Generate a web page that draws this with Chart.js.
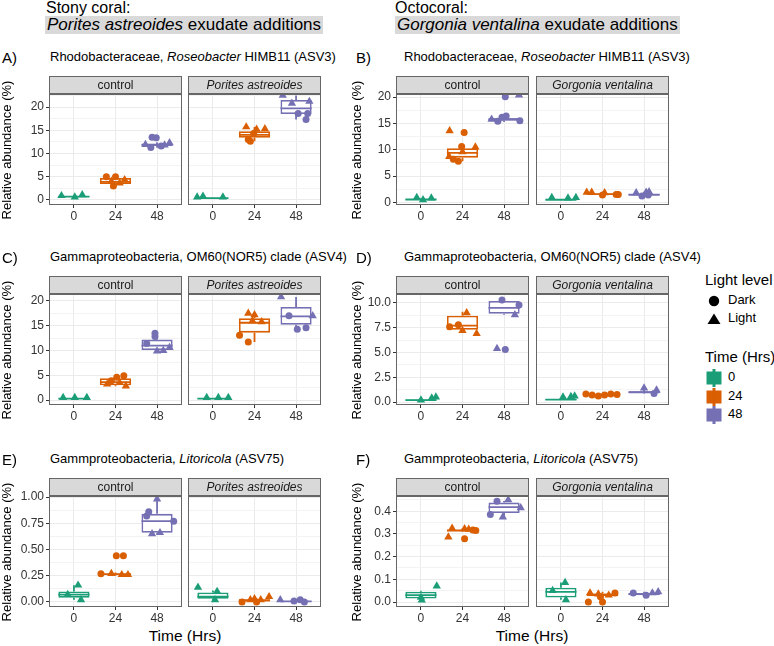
<!DOCTYPE html>
<html>
<head>
<meta charset="utf-8">
<script src="https://cdn.jsdelivr.net/npm/chart.js@4.4.1/dist/chart.umd.min.js"></script>
<style>
  body { margin: 0; background: #fff; font-family: "Liberation Sans", Arial, sans-serif; }
  #wrap { position: relative; width: 774px; height: 646px; overflow: hidden; }
  #wrap canvas { position: absolute; }
  .txt { position: absolute; white-space: nowrap; color: #000; line-height: 1.15; z-index: 2; }
  .hl { background: #D9D9D9; padding: 0 2px; }
  .ytitle { position: absolute; width: 200px; height: 16px; line-height: 16px; text-align: center;
            font-size: 13px; transform: rotate(-90deg); white-space: nowrap; z-index: 2; }
  svg { position: absolute; }
</style>
</head>
<body>
<div id="wrap"></div>
<script>
// categories and groups
const timeLabels = ['0', '24', '48'];
const timeColors = ['#1B9E77', '#D95F02', '#7570B3'];
const lightLevels = ['Dark', 'Light'];

// box stats per time point: [lower whisker, q1, median, q3, upper whisker]
// points: [time index, jitter, relative abundance, light level (0 = Dark, 1 = Light)]

// A) Roseobacter HIMB11 (ASV3), Porites astreoides
const yTicksA = [0, 5, 10, 15, 20];
const yLabelsA = ['0', '5', '10', '15', '20'];
const yLimA = [-1.1, 22.8];
const boxA_ctrl = [[0.5, 0.6, 0.7, 0.8, 1.0], [3.0, 3.4, 3.9, 4.7, 5.0], [11.2, 11.6, 11.9, 12.1, 12.4]];
const ptsA_ctrl = [
  [0, -0.30, 0.9, 1], [0, 0.20, 1.1, 1], [0, 0.02, 0.6, 1],
  [1, -0.22, 5.0, 0], [1, 0.00, 5.0, 0], [1, -0.05, 3.0, 0], [1, 0.22, 4.3, 1], [1, 0.10, 3.6, 1], [1, -0.10, 4.0, 1],
  [2, -0.12, 13.5, 0], [2, -0.02, 13.4, 0], [2, -0.15, 11.3, 0], [2, 0.10, 11.6, 0], [2, 0.30, 12.3, 1], [2, 0.18, 11.8, 1], [2, -0.28, 11.9, 1]
];
const boxA_por = [[0.3, 0.35, 0.4, 0.45, 0.5], [12.6, 13.4, 14.0, 14.8, 15.7], [17.3, 18.5, 19.7, 21.5, 22.5]];
const ptsA_por = [
  [0, -0.38, 0.6, 1], [0, -0.24, 0.8, 1], [0, 0.24, 0.6, 1],
  [1, -0.20, 15.7, 1], [1, 0.05, 15.2, 1], [1, 0.25, 15.3, 1], [1, -0.15, 13.0, 0], [1, -0.10, 12.6, 0], [1, -0.02, 14.3, 0],
  [2, -0.32, 22.5, 1], [2, 0.32, 21.2, 1], [2, 0.05, 18.6, 0], [2, 0.28, 18.6, 0], [2, 0.24, 17.3, 0], [2, -0.10, 20.8, 1]
];

// B) Roseobacter HIMB11 (ASV3), Gorgonia ventalina
const yTicksB = [0, 5, 10, 15, 20];
const yLabelsB = ['0', '5', '10', '15', '20'];
const yLimB = [-0.5, 20.6];
const boxB_ctrl = [[0.4, 0.5, 0.55, 0.6, 0.8], [7.8, 8.5, 9.4, 10.3, 10.6], [15.3, 15.5, 15.8, 16.0, 16.4]];
const ptsB_ctrl = [
  [0, -0.10, 0.9, 1], [0, 0.25, 0.8, 1], [0, 0.05, 0.5, 1],
  [1, -0.31, 13.6, 1], [1, 0.04, 13.3, 0], [1, -0.02, 10.6, 0], [1, 0.31, 10.5, 1], [1, 0.00, 9.6, 1], [1, -0.22, 8.2, 0], [1, -0.10, 7.8, 0], [1, -0.32, 8.7, 1],
  [2, 0.03, 20.1, 0], [2, 0.36, 20.4, 1], [2, -0.05, 16.2, 0], [2, 0.05, 16.4, 0], [2, 0.38, 15.5, 0], [2, -0.30, 15.8, 1], [2, -0.15, 15.4, 0]
];
const boxB_gor = [[0.4, 0.45, 0.5, 0.55, 0.6], [1.3, 1.45, 1.55, 1.7, 1.9], [1.2, 1.35, 1.45, 1.6, 2.0]];
const ptsB_gor = [
  [0, -0.22, 0.9, 1], [0, 0.17, 0.8, 1], [0, 0.36, 0.9, 1],
  [1, -0.38, 1.9, 1], [1, -0.26, 1.9, 1], [1, 0.05, 1.8, 1], [1, 0.00, 1.4, 0], [1, 0.33, 1.5, 0], [1, 0.38, 1.5, 0],
  [2, -0.19, 1.8, 1], [2, 0.05, 1.9, 1], [2, 0.12, 2.0, 1], [2, -0.05, 1.2, 0], [2, 0.10, 1.4, 0]
];

// C) OM60(NOR5) clade (ASV4), Porites astreoides
const yTicksC = [0, 5, 10, 15, 20];
const yLabelsC = ['0', '5', '10', '15', '20'];
const yLimC = [-1.0, 21.4];
const boxC_ctrl = [[0.2, 0.25, 0.3, 0.35, 0.4], [2.8, 3.0, 3.6, 4.4, 4.9], [9.9, 10.1, 11.0, 12.2, 13.5]];
const ptsC_ctrl = [
  [0, -0.26, 0.5, 1], [0, 0.02, 0.5, 1], [0, 0.31, 0.5, 1],
  [1, 0.03, 4.6, 0], [1, 0.20, 4.9, 0], [1, -0.10, 3.9, 0], [1, 0.10, 3.5, 1], [1, 0.25, 2.8, 1], [1, -0.20, 3.2, 1],
  [2, -0.05, 13.5, 0], [2, -0.05, 12.8, 0], [2, -0.25, 11.4, 0], [2, 0.00, 9.9, 1], [2, 0.30, 10.6, 1], [2, 0.15, 10.0, 1]
];
const boxC_por = [[0.2, 0.25, 0.3, 0.35, 0.4], [11.7, 13.6, 15.6, 16.5, 17.5], [14.3, 15.2, 16.9, 18.8, 20.8]];
const ptsC_por = [
  [0, -0.15, 0.5, 1], [0, 0.13, 0.5, 1], [0, 0.37, 0.5, 1],
  [1, -0.15, 17.5, 1], [1, 0.00, 17.2, 1], [1, 0.17, 15.8, 1], [1, -0.36, 13.1, 0], [1, -0.15, 11.7, 0], [1, -0.05, 16.0, 1],
  [2, -0.36, 20.8, 1], [2, -0.17, 17.0, 0], [2, 0.40, 17.0, 1], [2, 0.03, 14.3, 0], [2, 0.24, 14.6, 0]
];

// D) OM60(NOR5) clade (ASV4), Gorgonia ventalina
const yTicksD = [0, 2.5, 5, 7.5, 10];
const yLabelsD = ['0.0', '2.5', '5.0', '7.5', '10.0'];
const yLimD = [-0.3, 10.9];
const boxD_ctrl = [[0.1, 0.15, 0.2, 0.25, 0.3], [7.0, 7.3, 7.7, 8.7, 9.1], [8.8, 8.9, 9.5, 10.2, 10.4]];
const ptsD_ctrl = [
  [0, 0.26, 0.4, 1], [0, 0.36, 0.5, 1], [0, 0.00, 0.2, 1],
  [1, -0.31, 7.6, 0], [1, -0.10, 7.8, 0], [1, 0.10, 9.0, 1], [1, 0.34, 6.9, 1], [1, 0.00, 7.2, 1],
  [2, -0.05, 10.3, 0], [2, 0.36, 9.8, 0], [2, 0.26, 8.8, 1], [2, -0.17, 5.4, 1], [2, 0.03, 5.3, 0]
];
const boxD_gor = [[0.15, 0.2, 0.25, 0.3, 0.35], [0.55, 0.62, 0.7, 0.78, 0.9], [0.8, 0.85, 1.0, 1.1, 1.4]];
const ptsD_gor = [
  [0, 0.05, 0.5, 1], [0, 0.24, 0.55, 1], [0, 0.33, 0.6, 1],
  [1, -0.40, 0.8, 0], [1, -0.25, 0.7, 0], [1, -0.10, 0.6, 0], [1, 0.05, 0.7, 0], [1, 0.20, 0.8, 0], [1, 0.35, 0.75, 0],
  [2, 0.00, 1.4, 1], [2, 0.24, 0.85, 0], [2, 0.30, 1.2, 1]
];

// E) Litoricola (ASV75), Porites astreoides
const yTicksE = [0, 0.25, 0.5, 0.75, 1];
const yLabelsE = ['0.00', '0.25', '0.50', '0.75', '1.00'];
const yLimE = [-0.048, 1.01];
const boxE_ctrl = [[0.02, 0.04, 0.07, 0.10, 0.16], [0.25, 0.26, 0.265, 0.27, 0.28], [0.65, 0.66, 0.77, 0.84, 0.98]];
const ptsE_ctrl = [
  [0, 0.10, 0.16, 1], [0, 0.17, 0.02, 1], [0, -0.15, 0.07, 1],
  [1, 0.02, 0.44, 0], [1, 0.19, 0.44, 0], [1, -0.35, 0.27, 0], [1, -0.10, 0.27, 1], [1, 0.15, 0.26, 1], [1, 0.30, 0.26, 1],
  [2, -0.20, 0.86, 0], [2, -0.25, 0.82, 0], [2, 0.40, 0.77, 0], [2, 0.00, 0.98, 1], [2, -0.12, 0.65, 1], [2, 0.07, 0.66, 1]
];
const boxE_por = [[0.01, 0.03, 0.05, 0.09, 0.11], [0.0, 0.005, 0.015, 0.025, 0.05], [0.0, 0.0, 0.005, 0.01, 0.02]];
const ptsE_por = [
  [0, -0.36, 0.14, 1], [0, 0.05, 0.02, 1], [0, 0.10, 0.10, 1],
  [1, -0.30, 0.0, 0], [1, -0.10, 0.02, 1], [1, 0.00, 0.03, 1], [1, 0.15, 0.02, 1], [1, 0.35, 0.05, 1], [1, 0.05, 0.0, 0],
  [2, -0.38, 0.02, 1], [2, -0.05, 0.01, 0], [2, 0.10, 0.02, 0], [2, 0.20, 0.0, 0]
];

// F) Litoricola (ASV75), Gorgonia ventalina
const yTicksF = [0, 0.1, 0.2, 0.3, 0.4];
const yLabelsF = ['0.0', '0.1', '0.2', '0.3', '0.4'];
const yLimF = [-0.022, 0.467];
const boxF_ctrl = [[0.005, 0.015, 0.03, 0.045, 0.05], [0.31, 0.312, 0.315, 0.318, 0.325], [0.375, 0.392, 0.418, 0.438, 0.445]];
const ptsF_ctrl = [
  [0, 0.00, 0.02, 1], [0, 0.38, 0.07, 1], [0, 0.02, 0.008, 1],
  [1, -0.34, 0.286, 1], [1, -0.25, 0.325, 1], [1, 0.05, 0.322, 1], [1, 0.15, 0.32, 1], [1, 0.05, 0.279, 0], [1, 0.25, 0.317, 0], [1, 0.32, 0.315, 0],
  [2, -0.33, 0.385, 0], [2, -0.17, 0.444, 0], [2, 0.10, 0.45, 1], [2, -0.03, 0.374, 1], [2, 0.40, 0.415, 1]
];
const boxF_gor = [[0.01, 0.02, 0.045, 0.063, 0.086], [0.0, 0.025, 0.032, 0.038, 0.045], [0.028, 0.03, 0.035, 0.04, 0.045]];
const ptsF_gor = [
  [0, 0.10, 0.086, 1], [0, 0.12, 0.01, 1], [0, -0.20, 0.05, 1],
  [1, -0.34, 0.0, 0], [1, -0.30, 0.04, 1], [1, -0.10, 0.035, 1], [1, -0.05, 0.023, 0], [1, 0.00, 0.0, 0], [1, 0.15, 0.03, 1], [1, 0.30, 0.04, 0],
  [2, -0.26, 0.04, 0], [2, 0.34, 0.045, 1], [2, 0.05, 0.03, 0], [2, 0.20, 0.04, 1]
];

// layout
const ROW_TOP = [94, 294, 496];
const COL_LEFT = [[49, 188], [396, 536]];
const PLOT_W = 133, PLOT_H = 111, STRIP_H = 17, X_H = 19, Y_W = 35;
const FONT = '"Liberation Sans", Arial, sans-serif';
const GRID = '#EBEBEB', GRID_MINOR = '#F3F3F3', AXIS_TXT = '#333333';

const panels = [
  { tag: 'A)', title: 'Rhodobacteraceae, <i>Roseobacter</i> HIMB11 (ASV3)', row: 0, col: 0,
    yTicks: yTicksA, yLabels: yLabelsA, yLim: yLimA,
    facets: [['control', false, boxA_ctrl, ptsA_ctrl], ['Porites astreoides', true, boxA_por, ptsA_por]] },
  { tag: 'B)', title: 'Rhodobacteraceae, <i>Roseobacter</i> HIMB11 (ASV3)', row: 0, col: 1,
    yTicks: yTicksB, yLabels: yLabelsB, yLim: yLimB,
    facets: [['control', false, boxB_ctrl, ptsB_ctrl], ['Gorgonia ventalina', true, boxB_gor, ptsB_gor]] },
  { tag: 'C)', title: 'Gammaproteobacteria, OM60(NOR5) clade (ASV4)', row: 1, col: 0,
    yTicks: yTicksC, yLabels: yLabelsC, yLim: yLimC,
    facets: [['control', false, boxC_ctrl, ptsC_ctrl], ['Porites astreoides', true, boxC_por, ptsC_por]] },
  { tag: 'D)', title: 'Gammaproteobacteria, OM60(NOR5) clade (ASV4)', row: 1, col: 1,
    yTicks: yTicksD, yLabels: yLabelsD, yLim: yLimD,
    facets: [['control', false, boxD_ctrl, ptsD_ctrl], ['Gorgonia ventalina', true, boxD_gor, ptsD_gor]] },
  { tag: 'E)', title: 'Gammproteobacteria, <i>Litoricola</i> (ASV75)', row: 2, col: 0,
    yTicks: yTicksE, yLabels: yLabelsE, yLim: yLimE,
    facets: [['control', false, boxE_ctrl, ptsE_ctrl], ['Porites astreoides', true, boxE_por, ptsE_por]] },
  { tag: 'F)', title: 'Gammproteobacteria, <i>Litoricola</i> (ASV75)', row: 2, col: 1,
    yTicks: yTicksF, yLabels: yLabelsF, yLim: yLimF,
    facets: [['control', false, boxF_ctrl, ptsF_ctrl], ['Gorgonia ventalina', true, boxF_gor, ptsF_gor]] }
];

const wrap = document.getElementById('wrap');

function addText(html, left, top, size, extra) {
  const d = document.createElement('div');
  d.className = 'txt';
  d.style.left = left + 'px';
  d.style.top = top + 'px';
  d.style.fontSize = size + 'px';
  if (extra) d.style.cssText += extra;
  d.innerHTML = html;
  wrap.appendChild(d);
  return d;
}

// strip on top, panel border drawn over the data
const facetFrame = {
  id: 'facetFrame',
  afterDraw(chart, args, opts) {
    const { ctx, chartArea: a } = chart;
    const w = a.right - a.left;
    ctx.save();
    ctx.fillStyle = '#D9D9D9';
    ctx.fillRect(a.left, a.top - STRIP_H - 1, w, STRIP_H + 1);
    ctx.strokeStyle = '#666666';
    ctx.lineWidth = 1;
    ctx.strokeRect(a.left + 0.5, a.top - STRIP_H - 0.5, w - 1, STRIP_H);
    ctx.strokeRect(a.left + 0.5, a.top + 0.5, w - 1, a.bottom - a.top - 1);
    ctx.fillStyle = '#1A1A1A';
    ctx.font = (opts.italic ? 'italic ' : '') + '12px ' + FONT;
    ctx.textAlign = 'center';
    ctx.textBaseline = 'middle';
    ctx.fillText(opts.label, a.left + w / 2, a.top - STRIP_H / 2);
    ctx.restore();
  }
};

function buildYTicks(panel) {
  const step = panel.yTicks[1] - panel.yTicks[0];
  const out = [];
  panel.yTicks.forEach((v, i) => {
    out.push({ value: v, txt: panel.yLabels[i] });
  });
  [panel.yTicks[0] - step / 2].concat(panel.yTicks.map(v => v + step / 2)).forEach(v => {
    if (v > panel.yLim[0] && v < panel.yLim[1]) out.push({ value: v, minor: true });
  });
  return out.sort((p, q) => p.value - q.value);
}

function facetDatasets(box, pts) {
  const sets = [];
  // boxes (q1..q3)
  sets.push({
    type: 'bar', order: 3,
    data: box.map((b, t) => ({ x: t + 1, y: [b[1], b[3]] })),
    backgroundColor: '#FFFFFF',
    borderColor: timeColors,
    borderWidth: 1.8,
    borderSkipped: false,
    barPercentage: 0.75,
    categoryPercentage: 1
  });
  // whiskers and medians
  box.forEach((b, t) => {
    const x = t + 1;
    sets.push({
      type: 'line', order: 2,
      data: [
        { x: x, y: b[4] }, { x: x, y: b[3] }, { x: x, y: null },
        { x: x, y: b[1] }, { x: x, y: b[0] }, { x: x, y: null },
        { x: x - 0.375, y: b[2] }, { x: x + 0.375, y: b[2] }
      ],
      borderColor: timeColors[t],
      borderWidth: 1.8,
      pointRadius: 0,
      spanGaps: false,
      fill: false
    });
  });
  // jittered samples
  timeColors.forEach((c, t) => {
    const mine = pts.filter(p => p[0] === t);
    sets.push({
      type: 'scatter', order: 1,
      data: mine.map(p => ({ x: t + 1 + p[1], y: p[2] })),
      pointStyle: mine.map(p => p[3] ? 'triangle' : 'circle'),
      pointRadius: mine.map(p => p[3] ? 4.8 : 3.5),
      backgroundColor: c,
      borderColor: c,
      borderWidth: 0,
      clip: 0
    });
  });
  return sets;
}

function makeFacet(panel, fi) {
  const [label, italic, box, pts] = panel.facets[fi];
  const showY = fi === 0;
  const plotLeft = COL_LEFT[panel.col][fi];
  const plotTop = ROW_TOP[panel.row];
  const yw = showY ? Y_W : 0;

  const canvas = document.createElement('canvas');
  canvas.width = yw + PLOT_W + 1;
  canvas.height = STRIP_H + 1 + PLOT_H + X_H;
  canvas.style.left = (plotLeft - yw) + 'px';
  canvas.style.top = (plotTop - STRIP_H - 1) + 'px';
  wrap.appendChild(canvas);

  new Chart(canvas, {
    type: 'bar',
    data: { datasets: facetDatasets(box, pts) },
    plugins: [facetFrame],
    options: {
      responsive: false,
      animation: false,
      devicePixelRatio: 1,
      layout: { padding: { top: STRIP_H + 1, right: 1, left: 0, bottom: 0 }, autoPadding: false },
      plugins: {
        legend: { display: false },
        tooltip: { enabled: false },
        facetFrame: { label: label, italic: italic }
      },
      scales: {
        x: {
          type: 'linear', min: 0.4, max: 3.6, offset: false,
          afterBuildTicks: s => { s.ticks = timeLabels.map((_, i) => ({ value: i + 1 })); },
          afterFit: s => { s.height = X_H; },
          ticks: {
            autoSkip: false, maxRotation: 0, padding: 1, color: AXIS_TXT,
            font: { family: FONT, size: 12 },
            callback: (v, i) => timeLabels[i]
          },
          grid: { offset: false, color: GRID, lineWidth: 1, tickLength: 3, tickColor: AXIS_TXT },
          border: { display: false }
        },
        y: {
          type: 'linear', min: panel.yLim[0], max: panel.yLim[1],
          afterBuildTicks: s => { s.ticks = buildYTicks(panel); },
          afterFit: s => { s.width = yw; },
          ticks: {
            display: showY, autoSkip: false, padding: 2, color: AXIS_TXT,
            font: { family: FONT, size: 12 },
            callback: (v, i, ticks) => ticks[i].txt || ''
          },
          grid: {
            color: c => (c.tick && c.tick.minor) ? GRID_MINOR : GRID,
            lineWidth: 1,
            drawTicks: showY,
            tickLength: 3,
            tickColor: c => (c.tick && c.tick.minor) ? 'rgba(0,0,0,0)' : AXIS_TXT
          },
          border: { display: false }
        }
      }
    }
  });
}

// page titles
addText('Stony coral:', 46, -1, 16);
addText('<i>Porites astreoides</i> exudate additions', 45, 16, 17, 'line-height:18px;').classList.add('hl');
addText('Octocoral:', 395, -1, 16);
addText('<i>Gorgonia ventalina</i> exudate additions', 395, 16, 17, 'line-height:18px;').classList.add('hl');

panels.forEach(p => {
  const top = ROW_TOP[p.row];
  const xTag = p.col === 0 ? 2 : 356;
  const xTitle = p.col === 0 ? 50 : 404;
  addText(p.tag, xTag, top - 45, 15);
  addText(p.title, xTitle, top - 44, 13);

  const yt = document.createElement('div');
  yt.className = 'ytitle';
  yt.textContent = 'Relative abundance (%)';
  yt.style.left = ((p.col === 0 ? 7 : 357) - 100) + 'px';
  yt.style.top = (top + PLOT_H / 2 - 8) + 'px';
  wrap.appendChild(yt);

  makeFacet(p, 0);
  makeFacet(p, 1);

  if (p.row === 2) {
    const cx = p.col === 0 ? 185 : 532;
    addText('Time (Hrs)', cx - 50, 627, 15.5, 'width:100px;text-align:center;');
  }
});

// legend
addText('Light level', 705, 271, 15);
const shapeSvg = document.createElementNS('http://www.w3.org/2000/svg', 'svg');
shapeSvg.setAttribute('width', '16');
shapeSvg.setAttribute('height', '36');
shapeSvg.style.left = '706px';
shapeSvg.style.top = '292px';
shapeSvg.innerHTML = '<circle cx="8" cy="9" r="5.2" fill="#000"/><polygon points="8,21.5 14.5,32 1.5,32" fill="#000"/>';
wrap.appendChild(shapeSvg);
lightLevels.forEach((lv, i) => addText(lv, 728, 293 + i * 18, 13));

addText('Time (Hrs)', 705, 348, 15);
timeLabels.forEach((lab, i) => {
  const s = document.createElementNS('http://www.w3.org/2000/svg', 'svg');
  s.setAttribute('width', '18');
  s.setAttribute('height', '18');
  s.style.left = '705px';
  s.style.top = (369 + i * 18.5) + 'px';
  const c = timeColors[i];
  s.innerHTML = '<rect x="1.5" y="2.5" width="15" height="13" fill="' + c + '"/>' +
    '<rect x="7.5" y="0" width="3" height="18" fill="' + c + '"/>';
  wrap.appendChild(s);
  addText(lab, 728, 370 + i * 18.5, 13);
});
</script>
</body>
</html>
